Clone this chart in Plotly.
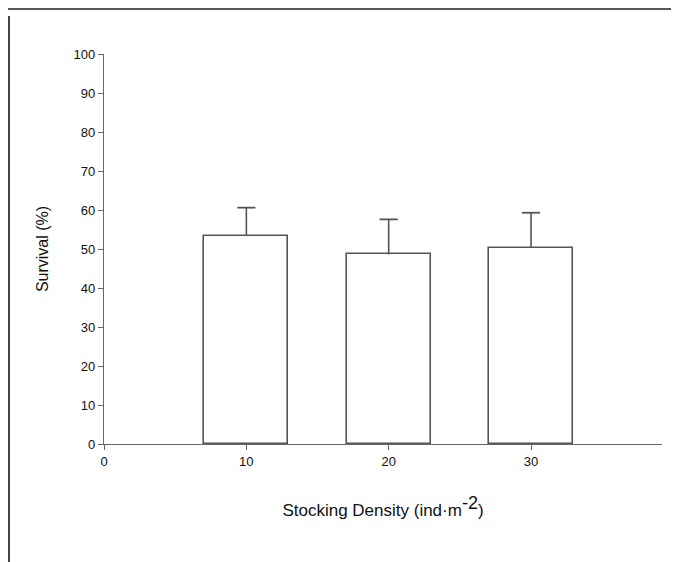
import plotly.graph_objects as go

densities = [10, 20, 30]
survival = [53.3, 48.6, 50.3]
survival_se = [7.3, 9.0, 9.0]
x_ticks = [0, 10, 20, 30]
y_ticks = [0, 10, 20, 30, 40, 50, 60, 70, 80, 90, 100]

W, H = 679, 562
L, R, T, B = 96, 25, 46, 126
PW, PH = W - L - R, H - T - B

FONT = "Liberation Sans, Arial, sans-serif"
LINE = "#555555"

fig = go.Figure()
fig.add_trace(go.Bar(
    x=densities, y=survival, width=5.9,
    marker=dict(color="white", line=dict(color=LINE, width=1.6)),
    error_y=dict(type="data", symmetric=False, array=survival_se,
                 arrayminus=[0] * len(survival_se),
                 color=LINE, thickness=1.6, width=0),
    showlegend=False,
))
# caps on top of the upper error whiskers
fig.add_trace(go.Scatter(
    x=densities, y=[s + e for s, e in zip(survival, survival_se)],
    mode="markers",
    marker=dict(symbol="line-ew", size=13, line=dict(color=LINE, width=1.8)),
    showlegend=False, hoverinfo="skip",
))

axis_font = dict(family=FONT, size=13, color="#111111")
fig.update_layout(
    width=W, height=H,
    margin=dict(l=L, r=R, t=T, b=B),
    paper_bgcolor="white", plot_bgcolor="white",
    xaxis=dict(range=[0, 39.2], tickvals=x_ticks, ticks="outside", ticklen=5,
               tickcolor="#666666", showline=True, linecolor="#666666", linewidth=1.3,
               showgrid=False, zeroline=False, tickfont=axis_font,
               title=dict(text="Stocking Density (ind·m<sup><span style='font-size:18px'>-2</span></sup>)",
                          font=dict(family=FONT, size=17, color="#111111"),
                          standoff=36)),
    yaxis=dict(range=[0, 100], tickvals=y_ticks, ticks="outside", ticklen=5,
               tickcolor="#666666", showline=True, linecolor="#666666", linewidth=1.3,
               showgrid=False, zeroline=False, tickfont=axis_font,
               title=dict(text="Survival (%)",
                          font=dict(family=FONT, size=16, color="#111111"),
                          standoff=20)),
    bargap=0,
)

# scanned page frame edges
fig.add_shape(type="line", xref="paper", yref="paper",
              x0=-L / PW + 1 / PW, x1=-L / PW + 1 / PW,
              y0=-B / PH, y1=1 + (T - 8) / PH,
              line=dict(color="#444444", width=2))
fig.add_shape(type="line", xref="paper", yref="paper",
              x0=-L / PW, x1=1 + R / PW,
              y0=1 + (T - 1) / PH, y1=1 + (T - 1) / PH,
              line=dict(color="#555555", width=2))

fig.write_html("out.html")
